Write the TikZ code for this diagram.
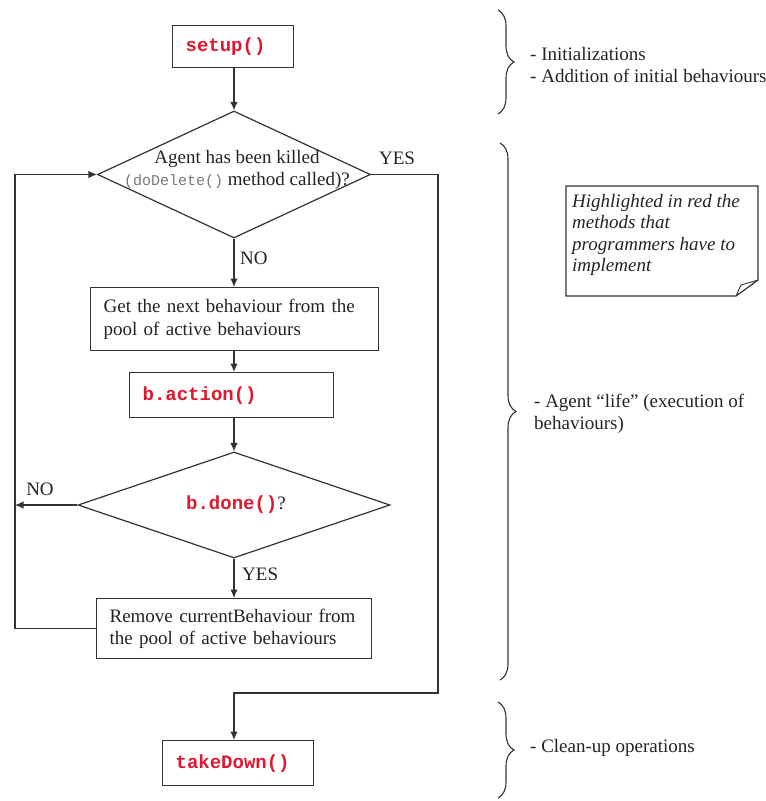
\documentclass[tikz,border=0pt]{standalone}
\usepackage{fontspec}
\setmainfont{Liberation Serif}
\newfontfamily\codefont{Liberation Mono}
\usetikzlibrary{arrows.meta,shapes.geometric,decorations.pathreplacing,calc}
\definecolor{linec}{RGB}{50,50,50}
\definecolor{txtc}{RGB}{35,35,35}
\definecolor{codered}{RGB}{222,24,48}
\definecolor{codegray}{RGB}{120,120,120}
\newcommand{\redcode}[1]{{\codefont\bfseries\color{codered}#1}}
\begin{document}
\begin{tikzpicture}[x=1pt,y=-1pt,
  every node/.style={font=\fontsize{19}{22.5}\selectfont, text=txtc},
  box/.style={draw=linec, line width=1.2pt, rectangle, inner xsep=13pt, inner ysep=0pt, align=left, anchor=north west},
  dia/.style={draw=linec, line width=1.2pt, diamond, inner sep=0pt},
  flow/.style={draw=linec, line width=1.2pt, -{Latex[length=8.5pt,width=7.5pt]}},
  plain/.style={draw=linec, line width=1.2pt},
  lbl/.style={inner sep=0pt},
  brc/.style={draw=linec, line width=1.1pt, decorate, decoration={brace, amplitude=16pt}},
]
\useasboundingbox (0,0) rectangle (766,801);

% coordinates for routing
\coordinate (col) at (234,0);
\coordinate (lx) at (15,0);
\coordinate (rx) at (438,0);
\coordinate (yb) at (0,693);

% flow nodes
\node[box, text width=95pt, minimum height=42pt] (setup) at (172,25) {\redcode{setup()}};
\node[dia, minimum width=273pt, minimum height=127pt] (d1) at (234,174.5) {};
\node[lbl, align=center] (d1t) at (237,170) {Agent has been killed\\{\codefont\fontsize{15}{22.5}\selectfont\color{codegray}(doDelete()} method called)?};
\node[box, text width=262pt, minimum height=63pt] (get) at (90,287) {Get the next behaviour from the\\pool of active behaviours};
\node[box, text width=178pt, minimum height=45pt] (act) at (129,372) {\redcode{b.action()}};
\node[dia, minimum width=312pt, minimum height=106pt] (d2) at (234,505) {};
\node[lbl] (d2t) at (236,505) {\redcode{b.done()}?};
\node[box, text width=249pt, minimum height=60pt] (rem) at (96,598) {Remove currentBehaviour from\\the pool of active behaviours};
\node[box, text width=125pt, minimum height=45pt] (take) at (162,740) {\redcode{takeDown()}};

% connectors
\draw[flow] (setup.south -| col) -- (d1.north);
\draw[flow] (d1.south) -- (get.north -| col);
\draw[flow] (get.south -| col) -- (act.north -| col);
\draw[flow] (act.south -| col) -- (d2.north);
\draw[flow] (d2.south) -- (rem.north -| col);
\draw[flow] (rem.west) -- (rem.west -| lx) -- (d1.west -| lx) -- (d1.west);
\draw[flow] (d2.west) -- (d2.west -| lx);
\draw[flow] (d1.east) -- (d1.east -| rx) -- (rx |- yb) -- (yb -| col) -- (take.north -| col);

% labels
\node[lbl] (yes1) at (397,158) {YES};
\node[lbl, anchor=west] (no1) at (240,258) {NO};
\node[lbl] (no2) at (40,489) {NO};
\node[lbl, anchor=west] (yes2) at (242,574) {YES};

% braces and phase descriptions
\draw[brc] (498,10) -- (498,114);
\node[lbl, anchor=west, align=left] (t1) at (530,65) {- Initializations\\- Addition of initial behaviours};
\draw[brc] (500,143) -- (500,680);
\node[lbl, anchor=west, align=left] (t2) at (534,414) {- Agent “life” (execution of\\behaviours)};
\draw[brc] (498,702) -- (498,798);
\node[lbl, anchor=west] (t3) at (530,748) {- Clean-up operations};

% note
\draw[plain] (566,186) -- (758,186) -- (758,280) -- (736,296) -- (566,296) -- cycle;
\draw[plain, line width=0.9pt] (758,280) -- (741,285) -- (736,296);
\node[lbl, anchor=north west, align=left, font=\fontsize{19}{21.5}\selectfont\itshape] (note) at (572,194) {Highlighted in red the\\methods that\\programmers have to\\implement};
\end{tikzpicture}
\end{document}
